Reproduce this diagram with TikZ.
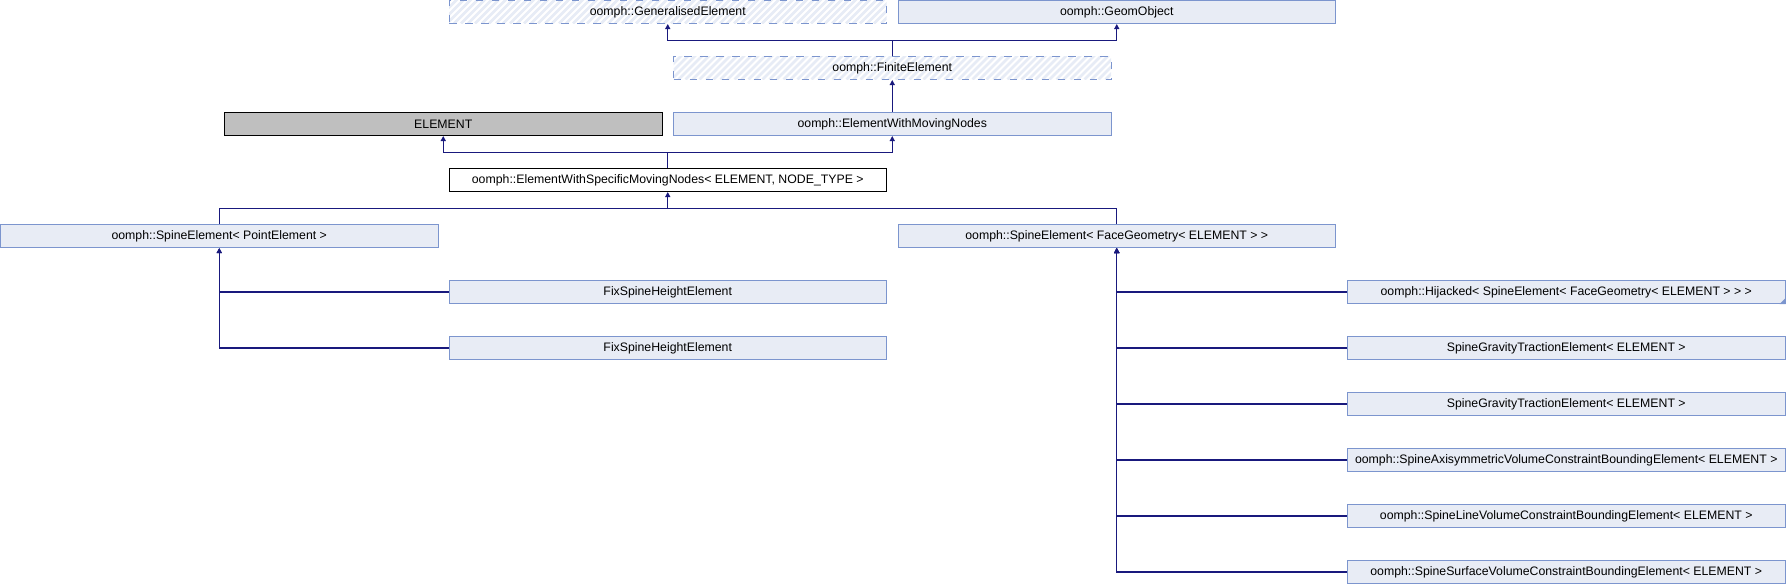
\documentclass[tikz,border=0pt]{standalone}
\usepackage{fontspec}
\setmainfont{Liberation Sans}
\usetikzlibrary{arrows.meta}
\definecolor{nodefill}{RGB}{232,236,245}
\definecolor{nodeedge}{RGB}{124,149,206}
\definecolor{hatchcol}{RGB}{231,236,246}
\definecolor{edgecol}{RGB}{25,25,125}
\definecolor{grayfill}{RGB}{191,191,191}
\begin{document}
\begin{tikzpicture}[x=1pt,y=-1pt,
  box/.style={rectangle, minimum width=437.5pt, minimum height=23pt, inner sep=0pt,
    font=\fontsize{12.3}{14}\selectfont, line width=1pt},
  normal/.style={box, draw=nodeedge, fill=nodefill},
  hatched/.style={box, draw=nodeedge, fill=white, dash pattern=on 7.5pt off 8.5pt,
    path picture={\foreach \k in {0,7,...,476}{\draw[hatchcol,line width=2.5pt,solid]
      ([xshift=\k pt-30pt]path picture bounding box.south west) -- ++(30pt,30pt);}}},
  greybox/.style={box, draw=black, fill=grayfill},
  current/.style={box, draw=black, fill=white},
  link/.style={draw=edgecol, line width=1.3pt},
  inh/.style={link, {Triangle[length=5pt,width=5pt]}-}
]
\useasboundingbox (0,0) rectangle (1786,584);

% row 0
\node[hatched] (ge) at (667.75,12) {oomph::GeneralisedElement};
\node[normal] (go) at (1116.75,12) {oomph::GeomObject};
% row 1
\node[hatched] (fe) at (892.25,68) {oomph::FiniteElement};
% row 2
\node[greybox] (el) at (443.25,124) {ELEMENT};
\node[normal] (ewmn) at (892.25,124) {oomph::ElementWithMovingNodes};
% row 3
\node[current] (ewsmn) at (667.75,180) {oomph::ElementWithSpecificMovingNodes< ELEMENT, NODE\_TYPE >};
% row 4
\node[normal] (sp) at (219.25,236) {oomph::SpineElement< PointElement >};
\node[normal] (sf) at (1116.75,236) {oomph::SpineElement< FaceGeometry< ELEMENT > >};
% left children
\node[normal] (fix1) at (667.75,292) {FixSpineHeightElement};
\node[normal] (fix2) at (667.75,348) {FixSpineHeightElement};
% right children
\node[normal] (r1) at (1566.25,292) {oomph::Hijacked< SpineElement< FaceGeometry< ELEMENT > > >};
\node[normal] (r2) at (1566.25,348) {SpineGravityTractionElement< ELEMENT >};
\node[normal] (r3) at (1566.25,404) {SpineGravityTractionElement< ELEMENT >};
\node[normal] (r4) at (1566.25,460) {oomph::SpineAxisymmetricVolumeConstraintBoundingElement< ELEMENT >};
\node[normal] (r5) at (1566.25,516) {oomph::SpineLineVolumeConstraintBoundingElement< ELEMENT >};
\node[normal] (r6) at (1566.25,572) {oomph::SpineSurfaceVolumeConstraintBoundingElement< ELEMENT >};
\fill[nodeedge] (r1.south east) -- ++(-6pt,0pt) -- ++(6pt,6pt) -- cycle;

% connectors
\coordinate (j1) at (892.25,40.5);
\draw[inh] (ge.south) |- (j1);
\draw[inh] (go.south) |- (j1);
\draw[link] (j1) -- (fe.north);
\draw[inh] (fe.south) -- (ewmn.north);
\coordinate (j2) at (667.75,152.5);
\draw[inh] (el.south) |- (j2);
\draw[inh] (ewmn.south) |- (j2);
\draw[link] (j2) -- (ewsmn.north);
\coordinate (j3) at (667.75,208.5);
\draw[inh] (ewsmn.south) -- (j3);
\draw[link] (sp.north) |- (j3);
\draw[link] (sf.north) |- (j3);
\draw[inh] (sp.south) |- (fix1.west);
\draw[inh] (sp.south) |- (fix2.west);
\foreach \c in {r1,r2,r3,r4,r5,r6}{\draw[inh] (sf.south) |- (\c.west);}
\end{tikzpicture}
\end{document}
